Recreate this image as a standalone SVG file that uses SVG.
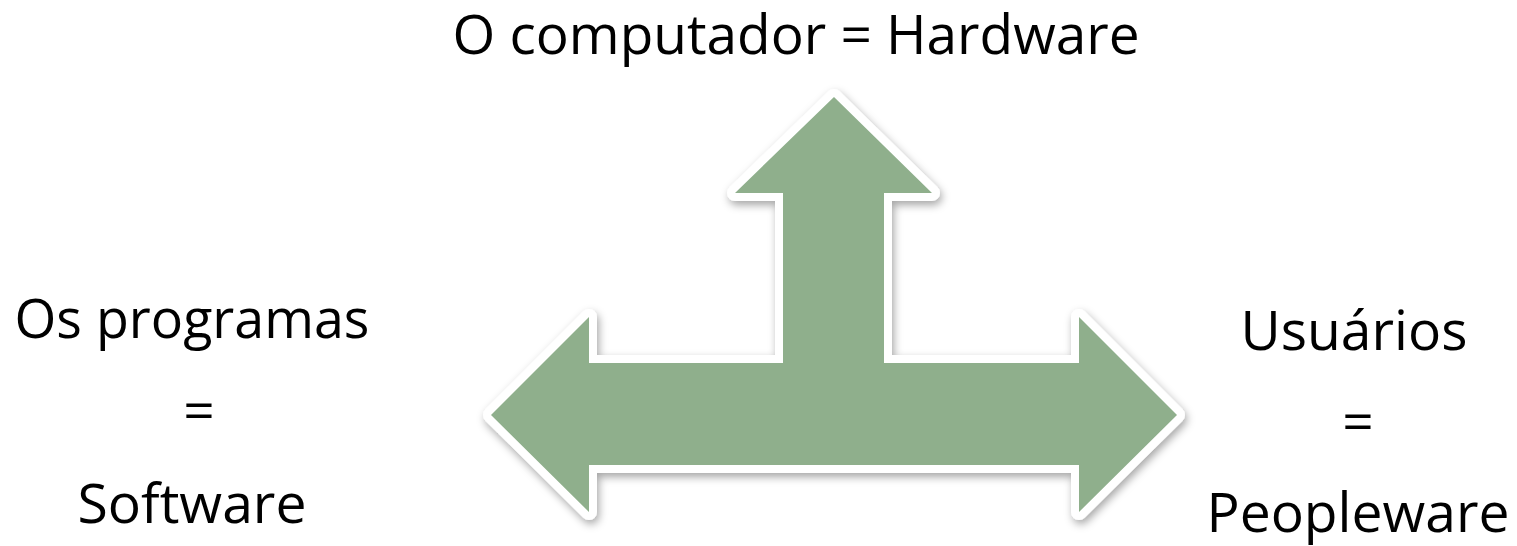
<svg xmlns="http://www.w3.org/2000/svg" width="1517" height="546" viewBox="0 0 1517 546">
<style>
.lbl{font-family:"Open Sans","Noto Sans","Liberation Sans",sans-serif;font-size:55px;fill:#000;text-anchor:middle}
.arrow{fill:#8FAF8C;stroke:#fff;stroke-width:16;stroke-linejoin:round;paint-order:stroke}
</style>
<defs>
<filter id="sh" x="-10%" y="-10%" width="120%" height="130%">
<feDropShadow dx="2" dy="4" stdDeviation="4" flood-color="#000" flood-opacity="0.35"/>
</filter>
</defs>
<rect width="1517" height="546" fill="#fff"/>
<g id="arrow3way">
<path class="arrow" filter="url(#sh)" d="M491,415 L589,317 L589,363 L783,363 L783,193 L735,193 L834,97 L932,193 L884,193 L884,363 L1079,363 L1079,317 L1177,415 L1079,512 L1079,465 L589,465 L589,512 Z"/>
</g>
<g id="hardware">
<text class="lbl" x="796" y="54" textLength="687" lengthAdjust="spacingAndGlyphs">O computador = Hardware</text>
</g>
<g id="software">
<text class="lbl" x="192" y="338" textLength="355" lengthAdjust="spacingAndGlyphs">Os programas</text>
<text class="lbl" x="199" y="430">=</text>
<text class="lbl" x="192" y="523" textLength="229" lengthAdjust="spacingAndGlyphs">Software</text>
</g>
<g id="peopleware">
<text class="lbl" x="1354" y="350" textLength="227" lengthAdjust="spacingAndGlyphs">Usuários</text>
<text class="lbl" x="1358" y="441">=</text>
<text class="lbl" x="1358" y="532" textLength="303" lengthAdjust="spacingAndGlyphs">Peopleware</text>
</g>
</svg>
